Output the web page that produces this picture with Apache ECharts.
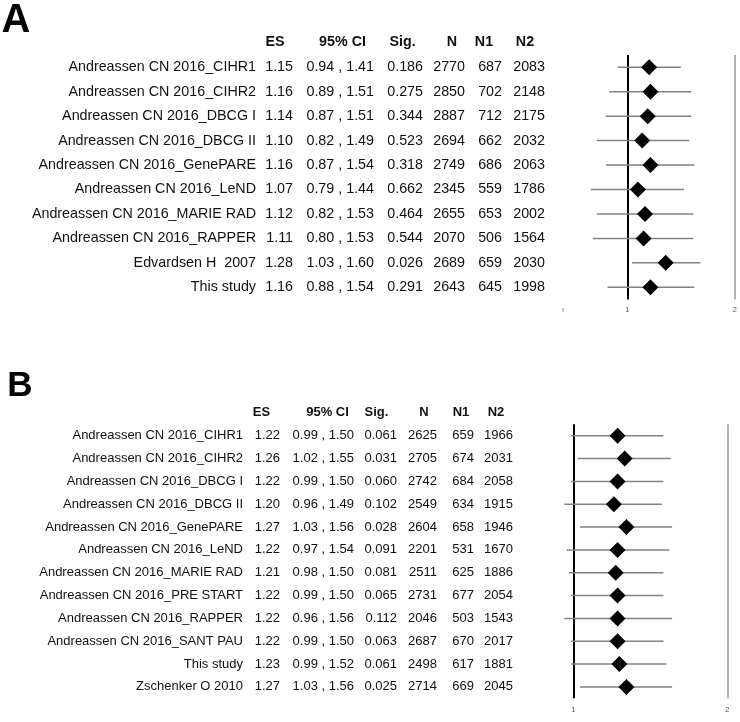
<!DOCTYPE html>
<html>
<head>
<meta charset="utf-8">
<script src="https://cdn.jsdelivr.net/npm/echarts@6/dist/echarts.min.js"></script>
<style>
  html, body { margin: 0; padding: 0; background: #fff; }
  #chart { width: 740px; height: 722px; }
</style>
</head>
<body>
<div id="chart"></div>
<script>
// ---- panel A ----
const namesA = ['Andreassen CN 2016_CIHR1', 'Andreassen CN 2016_CIHR2', 'Andreassen CN 2016_DBCG I', 'Andreassen CN 2016_DBCG II',
  'Andreassen CN 2016_GenePARE', 'Andreassen CN 2016_LeND', 'Andreassen CN 2016_MARIE RAD', 'Andreassen CN 2016_RAPPER',
  'Edvardsen H  2007', 'This study']
const esA = [1.15, 1.16, 1.14, 1.10, 1.16, 1.07, 1.12, 1.11, 1.28, 1.16]
const loA = [0.94, 0.89, 0.87, 0.82, 0.87, 0.79, 0.82, 0.80, 1.03, 0.88]
const hiA = [1.41, 1.51, 1.51, 1.49, 1.54, 1.44, 1.53, 1.53, 1.60, 1.54]
const sigA = ['0.186', '0.275', '0.344', '0.523', '0.318', '0.662', '0.464', '0.544', '0.026', '0.291']
const nA = [2770, 2850, 2887, 2694, 2749, 2345, 2655, 2070, 2689, 2643]
const n1A = [687, 702, 712, 662, 686, 559, 653, 506, 659, 645]
const n2A = [2083, 2148, 2175, 2032, 2063, 1786, 2002, 1564, 2030, 1998]

// ---- panel B ----
const namesB = ['Andreassen CN 2016_CIHR1', 'Andreassen CN 2016_CIHR2', 'Andreassen CN 2016_DBCG I', 'Andreassen CN 2016_DBCG II',
  'Andreassen CN 2016_GenePARE', 'Andreassen CN 2016_LeND', 'Andreassen CN 2016_MARIE RAD', 'Andreassen CN 2016_PRE START',
  'Andreassen CN 2016_RAPPER', 'Andreassen CN 2016_SANT PAU', 'This study', 'Zschenker O 2010']
const esB = [1.22, 1.26, 1.22, 1.20, 1.27, 1.22, 1.21, 1.22, 1.22, 1.22, 1.23, 1.27]
const loB = [0.99, 1.02, 0.99, 0.96, 1.03, 0.97, 0.98, 0.99, 0.96, 0.99, 0.99, 1.03]
const hiB = [1.50, 1.55, 1.50, 1.49, 1.56, 1.54, 1.50, 1.50, 1.56, 1.50, 1.52, 1.56]
const sigB = ['0.061', '0.031', '0.060', '0.102', '0.028', '0.091', '0.081', '0.065', '0.112', '0.063', '0.061', '0.025']
const nB = [2625, 2705, 2742, 2549, 2604, 2201, 2511, 2731, 2046, 2687, 2498, 2714]
const n1B = [659, 674, 684, 634, 658, 531, 625, 677, 503, 670, 617, 669]
const n2B = [1966, 2031, 2058, 1915, 1946, 1670, 1886, 2054, 1543, 2017, 1881, 2045]

const headers = ['ES', '95% CI', 'Sig.', 'N', 'N1', 'N2']
const axisTicks = [1, 2]

const FONT = '"Liberation Sans", Arial, sans-serif'

const panels = [
  {
    letter: 'A', names: namesA, es: esA, lo: loA, hi: hiA, sig: sigA, n: nA, n1: n1A, n2: n2A,
    grid: { left: 563, top: 55, width: 172, height: 244.5 },
    min: 0.66, max: 2, fontSize: 14.3, margin: 18, showMin: true, xMargin: 6,
    // column widths, text right aligned inside each box
    cols: [230, 37, 81, 49, 42, 37, 43],
    headY: 42, headX: [275, 342.5, 402.5, 452, 484, 525],
    letterPos: [16, 21], letterSize: 40
  },
  {
    letter: 'B', names: namesB, es: esB, lo: loB, hi: hiB, sig: sigB, n: nB, n1: n1B, n2: n2B,
    grid: { left: 562, top: 424.3, width: 165.3, height: 274 },
    min: 0.95, max: 2, fontSize: 13, margin: 49, showMin: false, xMargin: 8,
    cols: [215, 37, 74, 43, 40, 37, 39],
    headY: 412, headX: [261.5, 327.5, 376.5, 424, 461, 496],
    letterPos: [20, 386], letterSize: 35
  }
]

const richKeys = ['nm', 'es', 'ci', 'sig', 'n', 'n1', 'n2']

function makeRich(p) {
  const rich = {}
  richKeys.forEach((k, i) => {
    rich[k] = { width: p.cols[i], align: 'right', fontSize: p.fontSize, fontFamily: FONT, color: '#111' }
  })
  return rich
}

function rowLabel(p, i) {
  return '{nm|' + p.names[i] + '}' +
    '{es|' + p.es[i].toFixed(2) + '}' +
    '{ci|' + p.lo[i].toFixed(2) + ' , ' + p.hi[i].toFixed(2) + '}' +
    '{sig|' + p.sig[i] + '}' +
    '{n|' + p.n[i] + '}' +
    '{n1|' + p.n1[i] + '}' +
    '{n2|' + p.n2[i] + '}'
}

const grids = []
const xAxes = []
const yAxes = []
const series = []
const graphic = []

panels.forEach((p, k) => {
  grids.push(p.grid)
  xAxes.push({
    type: 'log',
    logBase: 2,
    gridIndex: k,
    min: p.min,
    max: p.max,
    axisLine: { show: false },
    axisTick: { show: false },
    splitLine: { show: false },
    axisLabel: {
      fontSize: 7.5,
      color: '#555',
      fontFamily: FONT,
      margin: p.xMargin,
      showMinLabel: p.showMin,
      showMaxLabel: true,
      formatter: v => {
        const t = axisTicks.find(a => Math.abs(a - v) < 1e-6)
        if (t !== undefined) return String(t)
        return p.showMin ? 'ı' : ''
      }
    }
  })
  yAxes.push({
    type: 'category',
    gridIndex: k,
    inverse: true,
    data: p.names,
    axisLine: { show: false },
    axisTick: { show: false },
    splitLine: { show: false },
    axisLabel: {
      interval: 0,
      margin: p.margin,
      formatter: (v, i) => rowLabel(p, i),
      rich: makeRich(p)
    }
  })
  // confidence interval whiskers
  series.push({
    type: 'custom',
    xAxisIndex: k,
    yAxisIndex: k,
    silent: true,
    z: 3,
    dimensions: [
      { name: 'lo', type: 'float' },
      { name: 'hi', type: 'float' },
      { name: 'row', type: 'ordinal' }
    ],
    data: p.names.map((nm, i) => [p.lo[i], p.hi[i], nm]),
    encode: { x: ['lo', 'hi'], y: 'row' },
    renderItem: (params, api) => {
      const row = params.dataIndex
      const a = api.coord([api.value(0), row])
      const b = api.coord([api.value(1), row])
      return {
        type: 'line',
        shape: { x1: a[0], y1: a[1], x2: b[0], y2: b[1] },
        style: { stroke: '#828282', lineWidth: 1.5 }
      }
    }
  })
  // effect size diamonds, plus the reference lines at 1 and 2
  series.push({
    type: 'scatter',
    xAxisIndex: k,
    yAxisIndex: k,
    z: 5,
    symbol: 'diamond',
    symbolSize: 16,
    itemStyle: { color: '#000', opacity: 1 },
    data: p.names.map((nm, i) => [p.es[i], nm]),
    markLine: {
      silent: true,
      symbol: 'none',
      z: 2,
      label: { show: false },
      data: [
        { xAxis: 1, lineStyle: { color: '#000', width: 2, type: 'solid' } },
        { xAxis: 2, lineStyle: { color: '#9a9a9a', width: 1.5, type: 'solid' } }
      ]
    }
  })

  graphic.push({
    type: 'text',
    x: p.letterPos[0],
    y: p.letterPos[1],
    style: {
      text: p.letter,
      font: 'bold ' + p.letterSize + 'px ' + FONT,
      fill: '#000',
      align: 'center',
      verticalAlign: 'middle'
    }
  })
  headers.forEach((h, i) => {
    graphic.push({
      type: 'text',
      x: p.headX[i],
      y: p.headY,
      style: {
        text: h,
        font: 'bold ' + p.fontSize + 'px ' + FONT,
        fill: '#111',
        align: 'center',
        verticalAlign: 'middle'
      }
    })
  })
})

const myChart = echarts.init(document.getElementById('chart'))
myChart.setOption({
  backgroundColor: '#fff',
  animation: false,
  grid: grids,
  xAxis: xAxes,
  yAxis: yAxes,
  series: series,
  graphic: graphic
})
</script>
</body>
</html>
